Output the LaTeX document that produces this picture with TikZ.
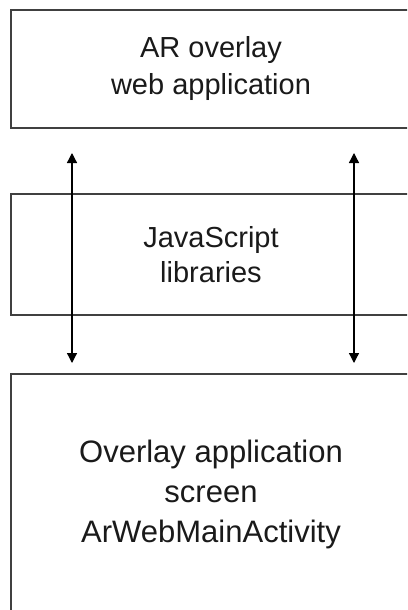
\documentclass[tikz,border=0pt]{standalone}
\usepackage{fontspec}
\setmainfont{Liberation Sans}
\usetikzlibrary{arrows.meta}
\definecolor{edge}{HTML}{404040}
\definecolor{txt}{HTML}{1A1A1A}
\begin{document}
\begin{tikzpicture}[x=1pt,y=-1pt,
  box/.style={draw=edge, line width=2pt, fill=white, anchor=north west, inner sep=0pt,
    align=center, text=txt, minimum width=400pt},
  link/.style={line width=1.3pt, {Triangle[width=10pt,length=10pt]}-{Triangle[width=10pt,length=10pt]}}]
\useasboundingbox (0,0) rectangle (407,610);
\clip (0,0) rectangle (407,610);
\fill[white] (0,0) rectangle (407,610);
\node[box, minimum height=117.5pt, font=\fontsize{29}{37}\selectfont] (top) at (10,9)
  {AR overlay\\web application};
\node[box, minimum height=121pt, font=\fontsize{29}{35}\selectfont] (mid) at (10,193)
  {JavaScript\\libraries};
\node[box, minimum height=240pt, font=\fontsize{31}{40}\selectfont] (bot) at (10,373)
  {Overlay application\\screen\\ArWebMainActivity};
\coordinate (a1) at (72,153);
\coordinate (b1) at (72,363);
\coordinate (a2) at (354,153);
\coordinate (b2) at (354,363);
\draw[link] (a1) -- (b1);
\draw[link] (a2) -- (b2);
\end{tikzpicture}
\end{document}
